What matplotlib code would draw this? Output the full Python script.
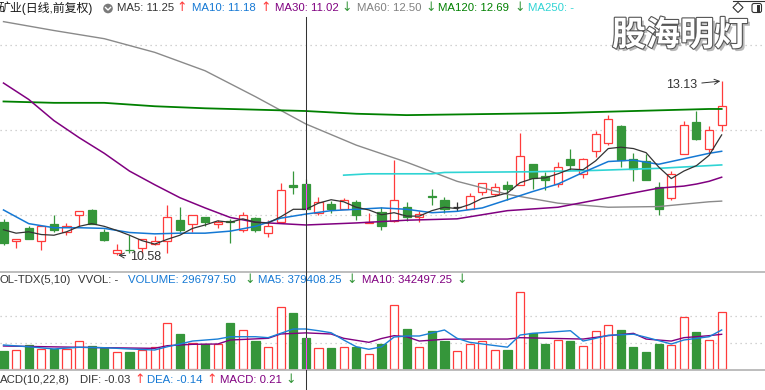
import matplotlib
matplotlib.use("Agg")
import matplotlib.pyplot as plt
import matplotlib.patheffects as pe
from matplotlib.lines import Line2D
from matplotlib.patches import Rectangle, Circle, Polygon, FancyBboxPatch
from matplotlib.transforms import IdentityTransform

W, H = 765, 390
plt.rcParams["font.family"] = ["Liberation Sans", "Noto Sans CJK SC", "DejaVu Sans"]

# --- daily candles ---
opens = [11.07, 10.78, 10.97, 10.78, 11.04, 10.92, 11.17, 11.24, 10.92, 10.61,
         10.66, 10.68, 10.74, 10.79, 11.09, 11.04, 11.13, 11.03, 11.08, 10.95,
         11.12, 10.90, 11.07, 11.60, 11.62, 11.20, 11.33, 11.25, 11.35, 11.05,
         11.21, 11.08, 11.28, 11.14, 11.45, 11.39, 11.28, 11.26, 11.50, 11.48,
         11.61, 11.61, 11.92, 11.74, 11.62, 11.99, 11.76, 12.11, 12.22, 12.47,
         11.99, 11.96, 11.58, 11.41, 12.06, 12.53, 12.14, 12.49]
highs = [11.11, 10.81, 11.01, 11.01, 11.17, 11.05, 11.22, 11.25, 10.96, 10.74,
         10.87, 10.82, 10.86, 11.31, 11.28, 11.17, 11.13, 11.09, 11.11, 11.21,
         11.13, 11.10, 11.64, 11.81, 11.70, 11.43, 11.37, 11.42, 11.38, 11.19,
         11.28, 11.97, 11.36, 11.23, 11.55, 11.43, 11.36, 11.49, 11.63, 11.63,
         11.67, 12.37, 11.92, 11.79, 11.95, 12.14, 12.00, 12.39, 12.63, 12.49,
         12.07, 12.06, 11.65, 11.81, 12.55, 12.69, 12.47, 13.13]
lows = [10.72, 10.68, 10.82, 10.66, 10.92, 10.87, 11.01, 11.03, 10.78, 10.58,
        10.61, 10.61, 10.72, 10.61, 10.92, 10.92, 11.01, 10.97, 10.76, 10.92,
        10.92, 10.85, 11.05, 11.47, 11.25, 11.17, 11.19, 11.25, 11.10, 11.05,
        10.95, 11.06, 11.08, 11.06, 11.31, 11.20, 11.23, 11.26, 11.46, 11.45,
        11.39, 11.61, 11.55, 11.53, 11.58, 11.83, 11.71, 12.02, 12.19, 11.87,
        11.67, 11.68, 11.17, 11.38, 12.06, 12.27, 12.07, 12.39]
closes = [10.75, 10.81, 10.82, 11.01, 10.94, 11.01, 11.22, 11.03, 10.80, 10.65,
          10.65, 10.82, 10.79, 11.14, 10.95, 11.17, 11.07, 11.06, 11.06, 11.17,
          10.94, 11.01, 11.53, 11.58, 11.25, 11.35, 11.26, 11.38, 11.16, 11.06,
          11.01, 11.39, 11.13, 11.18, 11.43, 11.26, 11.28, 11.44, 11.63, 11.57,
          11.55, 12.03, 11.71, 11.68, 11.87, 11.90, 11.98, 12.35, 12.58, 11.97,
          11.84, 11.68, 11.26, 11.76, 12.49, 12.28, 12.41, 12.76]
volumes = [170700, 180200, 227600, 189600, 189600, 189600, 265500, 218100, 202000, 158400,
           161200, 180200, 208600, 433300, 331900, 243700, 237000, 237000, 439000, 367000,
           265500, 208600, 587900, 533800, 296797.5, 196300, 202000, 208600, 211400, 142200,
           237000, 606800, 379300, 208600, 360300, 265500, 170700, 237000, 265500, 180200,
           180200, 727300, 338500, 237000, 272100, 265500, 218100, 360300, 417200, 369800,
           208600, 161200, 237000, 227600, 490200, 350800, 272100, 537600]

# --- moving averages as drawn (index, value) ---
ma5 = [10.95, 10.90, 10.92, 10.88, 10.87, 10.92, 11.00, 11.04, 11.00, 10.94,
       10.87, 10.79, 10.74, 10.81, 10.87, 10.97, 11.02, 11.08, 11.06, 11.11,
       11.06, 11.05, 11.14, 11.25, 11.25, 11.34, 11.39, 11.36, 11.28, 11.24,
       11.17, 11.20, 11.15, 11.15, 11.23, 11.28, 11.26, 11.32, 11.41, 11.44,
       11.49, 11.64, 11.70, 11.71, 11.77, 11.84, 11.83, 11.96, 12.14, 12.16,
       12.14, 12.08, 11.87, 11.70, 11.81, 11.89, 12.04, 12.34]
ma10_idx = [0, 2, 4, 6, 8, 10, 12, 14, 16, 18, 20, 22, 24, 26, 28, 30, 32, 34, 36,
            38, 40, 42, 44, 46, 48, 50, 52, 54, 56, 57]
ma10_val = [11.24, 11.04, 10.98, 10.98, 10.97, 10.91, 10.89, 10.90, 10.90, 10.93,
            11.00, 11.12, 11.18, 11.23, 11.25, 11.27, 11.25, 11.20, 11.22, 11.27,
            11.39, 11.51, 11.62, 11.79, 11.95, 11.97, 11.91, 11.99, 12.07, 12.10]
ma30_idx = [0, 2, 4, 6, 8, 10, 12, 14, 16, 18, 20, 24, 28, 32, 36, 40, 44, 48, 52,
            54, 55, 56, 57]
ma30_val = [13.10, 12.86, 12.55, 12.30, 12.07, 11.81, 11.61, 11.42, 11.27, 11.13,
            11.06, 11.02, 11.05, 11.09, 11.11, 11.23, 11.28, 11.42, 11.56, 11.59,
            11.62, 11.66, 11.72]
ma60_idx = [0, 4, 8, 12, 16, 20, 24, 28, 32, 36, 40, 44, 48, 52, 56, 57]
ma60_val = [14.00, 13.87, 13.75, 13.55, 13.28, 12.90, 12.50, 12.19, 11.94, 11.66,
            11.47, 11.34, 11.28, 11.29, 11.36, 11.37]
ma120_idx = [0, 4, 8, 12, 16, 20, 24, 28, 32, 36, 40, 44, 48, 52, 56, 57]
ma120_val = [12.83, 12.81, 12.81, 12.76, 12.73, 12.71, 12.69, 12.65, 12.63, 12.64,
             12.65, 12.66, 12.68, 12.70, 12.72, 12.72]
ma250_idx = [27, 29, 34, 35, 42, 47, 52, 57]
ma250_val = [11.75, 11.77, 11.77, 11.79, 11.80, 11.82, 11.85, 11.90]

vma5_idx = [0, 2, 4, 6, 8, 10, 12, 13, 14, 15, 17, 18, 20, 21, 22, 23, 24, 25, 26,
            27, 28, 29, 30, 31, 32, 33, 35, 36, 37, 39, 40, 41, 42, 45, 46, 47, 48,
            50, 51, 53, 54, 56, 57]
vma5_val = [227600, 211000, 190000, 206000, 202000, 190000, 180000, 211000, 237000,
            265000, 284000, 306000, 306000, 297000, 338000, 379000, 379408, 363000,
            344000, 275000, 211000, 187000, 210000, 303000, 313000, 313000, 370000,
            291000, 253000, 222000, 207000, 322000, 338000, 363000, 265000, 291000,
            320000, 330000, 301000, 237000, 275000, 306000, 370000]
vma10_idx = [0, 8, 12, 13, 15, 17, 18, 21, 22, 24, 26, 27, 29, 30, 31, 32, 33, 35,
             37, 40, 41, 46, 48, 50, 51, 53, 54, 56, 57]
vma10_val = [218000, 202000, 196000, 221000, 234000, 237000, 275000, 291000, 332000,
             342497, 332000, 291000, 253000, 289000, 316000, 306000, 265000, 282000,
             284000, 284000, 297000, 284000, 316000, 338000, 284000, 265000, 297000,
             316000, 329000]

price_grid = [13.658, 12.412, 11.166]
vol_grid = [250000, 500000]
focus = 24  # bar under the crosshair

RED, GREEN, DOJI = "#ff3b3b", "#35963a", "#333333"
BW = 0.64

fig = plt.figure(figsize=(W / 100, H / 100), dpi=100, facecolor="white")


def fy(y):
    return 1 - y / H


ax_p = fig.add_axes([0, fy(272), 1, 272 / H])
ax_v = fig.add_axes([0, fy(370), 1, 98 / H])
for ax in (ax_p, ax_v):
    ax.set_axis_off()
    ax.set_xlim(-0.278, 60.44)
ax_p.set_ylim(10.331, 14.317)
ax_v.set_ylim(-9482, 919754)

ax_p.hlines(price_grid, -0.3, 60.2, colors="#c4c4c4", linestyles=(0, (1, 3)), lw=0.9, zorder=0)
ax_v.hlines(vol_grid, -0.3, 60.2, colors="#c4c4c4", linestyles=(0, (1, 3)), lw=0.9, zorder=0)

for i, (o, h, l, c, v) in enumerate(zip(opens, highs, lows, closes, volumes)):
    top, bot = max(o, c), min(o, c)
    if c > o:
        ax_p.vlines(i, top, h, color=RED, lw=0.9, zorder=2)
        ax_p.vlines(i, l, bot, color=RED, lw=0.9, zorder=2)
        ax_p.add_patch(Rectangle((i - BW / 2, bot), BW, top - bot, facecolor="white",
                                 edgecolor=RED, lw=0.9, zorder=2))
    elif c < o:
        ax_p.vlines(i, l, h, color=GREEN, lw=0.9, zorder=2)
        ax_p.add_patch(Rectangle((i - BW / 2, bot), BW, top - bot, facecolor=GREEN,
                                 edgecolor=GREEN, lw=0.9, zorder=2))
    else:
        ax_p.vlines(i, l, h, color=DOJI, lw=0.9, zorder=2)
        ax_p.hlines(o, i - BW / 2, i + BW / 2, color=DOJI, lw=0.9, zorder=2)
    if c >= o:
        ax_v.add_patch(Rectangle((i - BW / 2, 0), BW, v, facecolor="white",
                                 edgecolor=RED, lw=0.9, zorder=2))
    else:
        ax_v.add_patch(Rectangle((i - BW / 2, 0), BW, v, facecolor=GREEN,
                                 edgecolor=GREEN, lw=0.9, zorder=2))

ax_p.plot(ma60_idx, ma60_val, color="#8a8a8a", lw=1.0, zorder=3)
ax_p.plot(ma120_idx, ma120_val, color="#008000", lw=1.3, zorder=3)
ax_p.plot(ma250_idx, ma250_val, color="#2fd4d4", lw=1.2, zorder=3)
ax_p.plot(ma30_idx, ma30_val, color="#800080", lw=1.1, zorder=3)
ax_p.plot(ma10_idx, ma10_val, color="#1478d4", lw=1.1, zorder=3)
ax_p.plot(range(len(ma5)), ma5, color="#333333", lw=0.9, zorder=4)

ax_v.plot(vma10_idx, vma10_val, color="#800080", lw=1.0, zorder=3)
ax_v.plot(vma5_idx, vma5_val, color="#1a7fd6", lw=1.0, zorder=3)

# high / low markers
ax_p.annotate("13.13", xy=(len(highs) - 1, max(highs)), xytext=(-24, -4),
              textcoords="offset pixels", ha="right", va="center", fontsize=9,
              color="#333333", zorder=5,
              arrowprops=dict(arrowstyle="->", color="#333333", lw=0.7, shrinkA=1, shrinkB=1))
low_i = lows.index(min(lows))
ax_p.annotate("10.58", xy=(low_i, min(lows)), xytext=(13, -2),
              textcoords="offset pixels", ha="left", va="center", fontsize=9,
              color="#333333", zorder=5,
              arrowprops=dict(arrowstyle="->", color="#333333", lw=0.7, shrinkA=1, shrinkB=1))

# panel separators and crosshair (pixel coordinates)
ident = IdentityTransform()
for y in (272, 370):
    fig.add_artist(Line2D([0, W], [H - y, H - y], color="#b8b8b8", lw=1.3, transform=ident))
fig.add_artist(Line2D([306, 306], [H - 17, 0], color="#333333", lw=0.75, transform=ident, zorder=5))
fig.add_artist(Line2D([focus, focus], [closes[focus], opens[focus]], color="#ff40ff", lw=0.75,
                      transform=ax_p.transData, zorder=6))
fig.add_artist(Line2D([focus, focus], [0, volumes[focus]], color="#ff40ff", lw=0.75,
                      transform=ax_v.transData, zorder=6))


def label(x, y, s, color, size=8.2, **kw):
    fig.text(x / W, fy(y), s, color=color, fontsize=size, ha="left", va="center", **kw)


def arrow(x, y, s, color):
    # the feed's arrows are tall and thin: take them from DejaVu Sans
    fig.text(x / W, fy(y - 0.5), s, color=color, fontsize=9, ha="left", va="center",
             family=["DejaVu Sans"])


UP, DOWN = "\u2191", "\u2193"
label(-1, 8, "矿业(日线,前复权)", "#1a1a1a", size=8.6)
fig.add_artist(Circle((108, H - 8.5), 4.8, facecolor="#7a7a7a", edgecolor="none", transform=ident))
fig.add_artist(Line2D([105.5, 108, 110.5], [H - 7.5, H - 10, H - 7.5], color="white", lw=1.0,
                      transform=ident))

rows = [
    (8, [(117, "MA5: 11.25", "#333333"), (176, UP, RED),
         (192, "MA10: 11.18", "#1478d4"), (260, UP, RED),
         (275, "MA30: 11.02", "#800080"), (341, DOWN, GREEN),
         (357, "MA60: 12.50", "#808080"), (425, DOWN, GREEN),
         (438, "MA120: 12.69", "#008000"), (514, DOWN, GREEN),
         (528, "MA250: -", "#2fd4d4")]),
    (280, [(-0.5, "OL-TDX(5,10)", "#333333"), (78, "VVOL: -", "#333333"),
           (128, "VOLUME: 296797.50", "#1478d4"), (244, DOWN, GREEN),
           (258, "MA5: 379408.25", "#1478d4"), (346, DOWN, GREEN),
           (362, "MA10: 342497.25", "#800080"), (456, DOWN, GREEN)]),
    (380, [(0, "ACD(10,22,8)", "#333333"), (80, "DIF: -0.03", "#333333"), (134, UP, RED),
           (147, "DEA: -0.14", "#1478d4"), (206, UP, RED),
           (220, "MACD: 0.21", "#800080"), (285, DOWN, GREEN)]),
]
for y, items in rows:
    for x, s, col in items:
        if s in (UP, DOWN):
            arrow(x, y, s, col)
        else:
            label(x, y, s, col)

# toolbar icons, top right
fig.add_artist(Line2D([733, W], [H - 1, H - 1], color="#333333", lw=0.8, transform=ident))
fig.add_artist(Polygon([(738, H - 2.5), (743, H - 7.5), (738, H - 12.5), (733, H - 7.5)],
                       closed=True, facecolor="none", edgecolor="#333333", lw=0.8, transform=ident))
fig.add_artist(FancyBboxPatch((752, H - 12.5), 9.5, 9, boxstyle="round,pad=0,rounding_size=2",
                              facecolor="none", edgecolor="#333333", lw=0.8, transform=ident))
fig.add_artist(Rectangle((756.5, H - 11.5), 3.5, 7, facecolor="#333333", edgecolor="none",
                         transform=ident))

# watermark
wm = fig.text(680 / W, fy(35), "股海明灯", fontsize=24.5, fontweight="bold", color="white",
              ha="center", va="center", family=["Noto Sans CJK SC"], zorder=7)
wm.set_path_effects([pe.SimplePatchShadow(offset=(2, -2), shadow_rgbFace="#9a9a9a", alpha=0.7),
                     pe.Stroke(linewidth=1.6, foreground="#555555"), pe.Normal()])

fig.savefig("out.png", dpi=100, facecolor="white")
